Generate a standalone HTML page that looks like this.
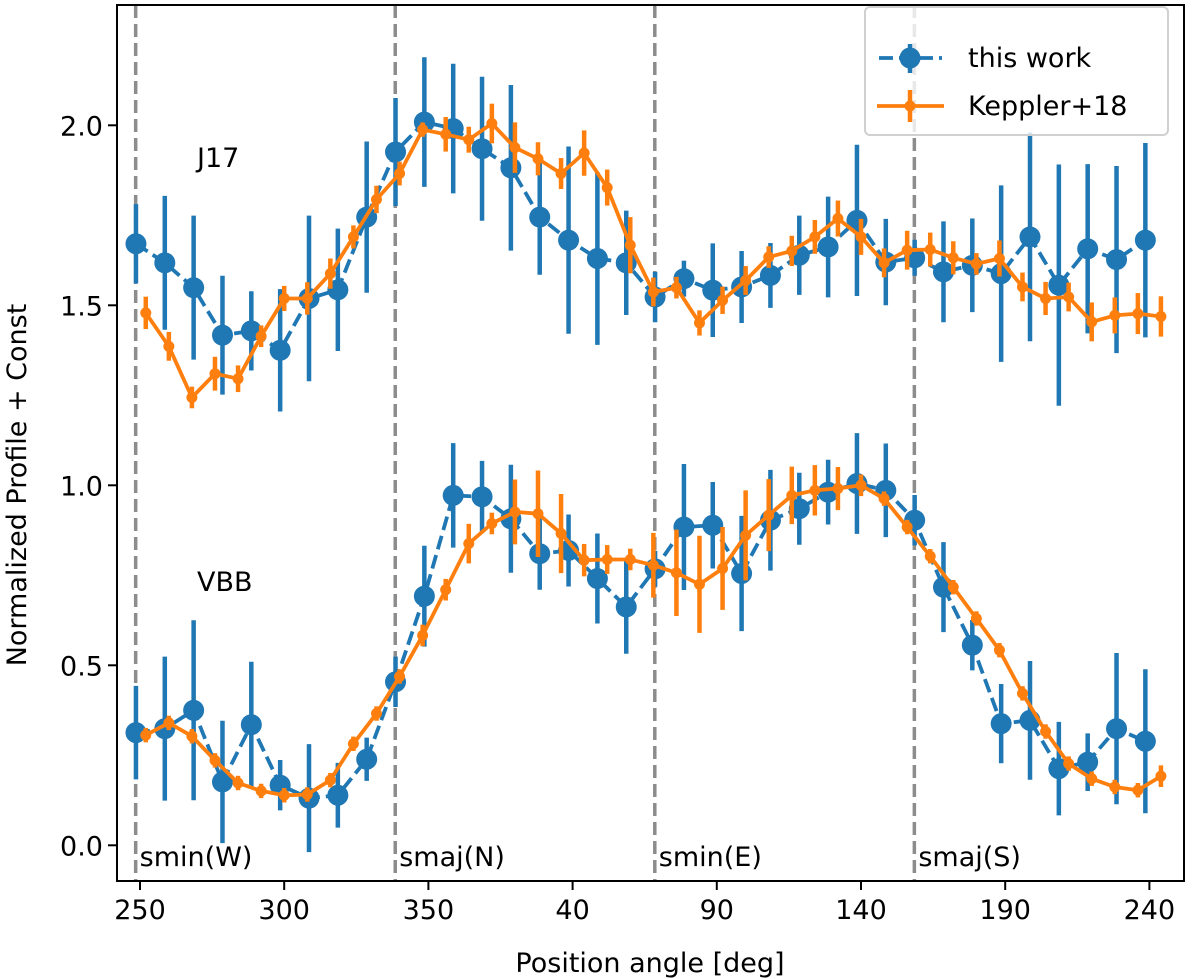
<!DOCTYPE html>
<html><head><meta charset="utf-8"><style>
html,body{margin:0;padding:0;background:#fff;}
svg{display:block;font-family:"DejaVu Sans","Liberation Sans",sans-serif;}
</style></head><body>
<svg id="chart" width="1200" height="979" viewBox="0 0 1200 979" xmlns="http://www.w3.org/2000/svg">
<g id="grid"></g>
<g id="marks"></g>
<g id="axes"></g>
</svg>
<script>
// ---- data ----
const xTicks = [250, 300, 350, 400, 450, 500, 550, 600];
const xTickLabels = ["250", "300", "350", "40", "90", "140", "190", "240"];
const yTicks = [0.0, 0.5, 1.0, 1.5, 2.0];
const yTickLabels = ["0.0", "0.5", "1.0", "1.5", "2.0"];
const refLines = [248.5, 338.5, 428.5, 518.5];
const refLabels = ["smin(W)", "smaj(N)", "smin(E)", "smaj(S)"];

const blueAngles = [248.6,258.6,268.6,278.6,288.6,298.6,308.6,318.6,328.6,338.6,348.6,358.6,368.6,378.6,388.6,398.6,408.6,418.6,428.6,438.6,448.6,458.6,468.6,478.6,488.6,498.6,508.6,518.6,528.6,538.6,548.6,558.6,568.6,578.6,588.6,598.6];
const blueJ17 = [1.671,1.618,1.549,1.417,1.429,1.375,1.519,1.543,1.745,1.926,2.009,1.991,1.935,1.882,1.745,1.681,1.630,1.618,1.523,1.574,1.542,1.551,1.583,1.639,1.662,1.736,1.620,1.632,1.593,1.611,1.588,1.690,1.556,1.657,1.627,1.681];
const blueJ17Err = [0.11,0.186,0.2,0.165,0.11,0.17,0.23,0.17,0.21,0.15,0.18,0.18,0.2,0.23,0.16,0.26,0.24,0.145,0.07,0.05,0.13,0.1,0.09,0.11,0.14,0.21,0.12,0.05,0.14,0.13,0.245,0.29,0.335,0.235,0.26,0.27];
const blueVBB = [0.313,0.324,0.375,0.176,0.335,0.167,0.131,0.139,0.239,0.454,0.692,0.972,0.968,0.907,0.810,0.819,0.741,0.662,0.768,0.884,0.889,0.755,0.903,0.935,0.981,1.005,0.986,0.903,0.717,0.556,0.338,0.347,0.213,0.231,0.324,0.289];
const blueVBBErr = [0.13,0.2,0.25,0.17,0.175,0.07,0.15,0.09,0.06,0.07,0.14,0.145,0.1,0.15,0.1,0.1,0.125,0.13,0.05,0.175,0.12,0.16,0.14,0.1,0.09,0.14,0.13,0.07,0.125,0.07,0.11,0.165,0.13,0.08,0.21,0.2];

const orangeAngles = [252,260,268,276,284,292,300,308,316,324,332,340,348,356,364,372,380,388,396,404,412,420,428,436,444,452,460,468,476,484,492,500,508,516,524,532,540,548,556,564,572,580,588,596,604];
const orangeJ17 = [1.479,1.386,1.244,1.310,1.296,1.414,1.519,1.519,1.588,1.690,1.794,1.866,1.988,1.975,1.960,2.005,1.938,1.907,1.866,1.923,1.827,1.667,1.537,1.549,1.451,1.514,1.569,1.634,1.651,1.690,1.741,1.690,1.618,1.653,1.655,1.632,1.615,1.630,1.551,1.519,1.523,1.454,1.472,1.477,1.469];
const orangeJ17Err = [0.045,0.04,0.03,0.047,0.037,0.03,0.035,0.045,0.042,0.032,0.038,0.033,0.02,0.048,0.036,0.055,0.07,0.046,0.043,0.063,0.05,0.078,0.04,0.03,0.035,0.038,0.04,0.03,0.042,0.047,0.05,0.05,0.04,0.054,0.047,0.046,0.03,0.05,0.04,0.046,0.04,0.054,0.05,0.057,0.056];
const orangeVBB = [0.306,0.340,0.303,0.236,0.173,0.151,0.139,0.141,0.181,0.282,0.366,0.469,0.583,0.710,0.838,0.894,0.926,0.921,0.866,0.792,0.794,0.794,0.778,0.757,0.725,0.769,0.861,0.917,0.972,0.986,0.991,1.0,0.963,0.884,0.803,0.717,0.630,0.542,0.422,0.316,0.227,0.185,0.162,0.153,0.192];
const orangeVBBErr = [0.02,0.02,0.02,0.02,0.02,0.02,0.02,0.02,0.02,0.02,0.02,0.02,0.03,0.03,0.055,0.03,0.09,0.12,0.11,0.045,0.04,0.03,0.09,0.12,0.135,0.115,0.125,0.1,0.08,0.07,0.06,0.03,0.02,0.02,0.02,0.02,0.02,0.02,0.02,0.02,0.02,0.02,0.02,0.02,0.03];

// ---- scales ----
const X0 = 117, X1 = 1184, Y0 = 5, Y1 = 881;
function xs(a){ return 140 + (a - 250) * 2.884; }
function ys(v){ return 845.3 - v * 360; }
const NS = "http://www.w3.org/2000/svg";
function mk(tag, attrs, parent){ const e = document.createElementNS(NS, tag); for (const k in attrs) e.setAttribute(k, attrs[k]); parent.appendChild(e); return e; }
const marks = document.getElementById('marks');
const axes = document.getElementById('axes');
const grid = document.getElementById('grid');
const BLUE = "#1f77b4", ORANGE = "#ff7f0e";

refLines.forEach((a, i) => {
  const l = mk('line', {x1: xs(a), x2: xs(a), y1: Y0, y2: Y1, stroke: "#8c8c8c", "stroke-width": 3.5, "stroke-dasharray": "13 6"}, grid);
  
  
  const t = mk('text', {x: xs(a) + 4, y: 866, "font-size": 27, fill: "#000"}, grid);
  t.textContent = refLabels[i];
  
  
});

function series(angles, vals, errs, color, big, dashed, name){
  const g = mk('g', {}, marks);
  
  
  angles.forEach((a, i) => {
    const eb = mk('line', {x1: xs(a), x2: xs(a), y1: ys(vals[i] - errs[i]), y2: ys(vals[i] + errs[i]), stroke: color, "stroke-width": 4.5}, g);
    
    
  });
  const pts = angles.map((a, i) => xs(a).toFixed(1) + "," + ys(vals[i]).toFixed(1)).join(" ");
  const pl = mk('polyline', {points: pts, fill: "none", stroke: color, "stroke-width": 3.8, "stroke-linejoin": "round"}, g);
  if (dashed) pl.setAttribute('stroke-dasharray', '14 6');
  
  
  angles.forEach((a, i) => {
    const c = mk('circle', {cx: xs(a), cy: ys(vals[i]), r: big ? 10.5 : 5.5, fill: color}, g);
    
    
  });
}
series(blueAngles, blueJ17, blueJ17Err, BLUE, true, true, 'this-work-j17');
series(blueAngles, blueVBB, blueVBBErr, BLUE, true, true, 'this-work-vbb');
series(orangeAngles, orangeJ17, orangeJ17Err, ORANGE, false, false, 'keppler-j17');
series(orangeAngles, orangeVBB, orangeVBBErr, ORANGE, false, false, 'keppler-vbb');

[["J17", 197, 167], ["VBB", 197, 591]].forEach(([s, x, y]) => {
  const t = mk('text', {x: x, y: y, "font-size": 27, fill: "#000"}, marks);
  t.textContent = s;
  
  
});

const fr = mk('rect', {x: X0, y: Y0, width: X1 - X0, height: Y1 - Y0, fill: "none", stroke: "#000", "stroke-width": 2}, axes);



xTicks.forEach((a, i) => {
  mk('line', {x1: xs(a), x2: xs(a), y1: Y1, y2: Y1 + 9, stroke: "#000", "stroke-width": 2}, axes);
  const t = mk('text', {x: xs(a), y: Y1 + 38, "font-size": 27, "text-anchor": "middle", fill: "#000"}, axes);
  t.textContent = xTickLabels[i];
  
  
});
yTicks.forEach((v, i) => {
  mk('line', {x1: X0, x2: X0 - 9, y1: ys(v), y2: ys(v), stroke: "#000", "stroke-width": 2}, axes);
  const t = mk('text', {x: X0 - 14, y: ys(v) + 10, "font-size": 27, "text-anchor": "end", fill: "#000"}, axes);
  t.textContent = yTickLabels[i];
  
  
});
</script>
<svg style="position:absolute;left:0;top:0" width="1200" height="979" xmlns="http://www.w3.org/2000/svg" font-family="DejaVu Sans, Liberation Sans, sans-serif">
  <text x="650" y="972" font-size="27" text-anchor="middle">Position angle [deg]</text>
  <text x="0" y="0" font-size="27" text-anchor="middle" transform="translate(26,485) rotate(-90)">Normalized Profile + Const</text>
  <g>
    <rect x="865" y="7" width="303" height="128" rx="5" fill="#fff" fill-opacity="0.8" stroke="#d0d0d0" stroke-width="2"/>
    <g>
      <line x1="879" y1="58" x2="942" y2="58" stroke="#1f77b4" stroke-width="3.8" stroke-dasharray="14 6"/>
      <line x1="910" y1="44" x2="910" y2="73" stroke="#1f77b4" stroke-width="4.5"/>
      <circle cx="910" cy="58" r="10.5" fill="#1f77b4"/>
      <text x="968" y="67" font-size="27">this work</text>
    </g>
    <g>
      <line x1="877" y1="106" x2="944" y2="106" stroke="#ff7f0e" stroke-width="3.8"/>
      <line x1="910" y1="90" x2="910" y2="122" stroke="#ff7f0e" stroke-width="4.5"/>
      <circle cx="910" cy="106" r="5.5" fill="#ff7f0e"/>
      <text x="968" y="115" font-size="27">Keppler+18</text>
    </g>
  </g>
</svg>
</body></html>
